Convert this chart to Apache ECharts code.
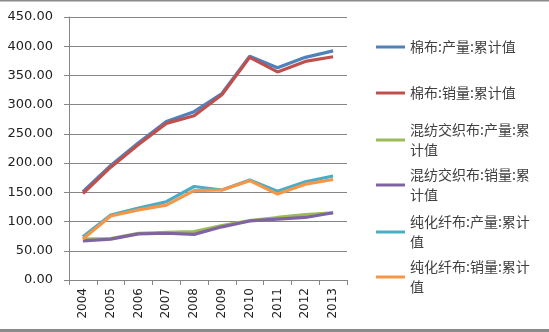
<!DOCTYPE html>
<html>
<head>
<meta charset="utf-8">
<script src="https://cdn.jsdelivr.net/npm/echarts@6/dist/echarts.min.js"></script>
<style>
html,body{margin:0;padding:0;background:#fff;}
#c{width:549px;height:332px;}
</style>
</head>
<body>
<div id="c"></div>
<script>
var years = ['2004','2005','2006','2007','2008','2009','2010','2011','2012','2013'];
var seriesNames = ['棉布:产量:累计值','棉布:销量:累计值','混纺交织布:产量:累计值','混纺交织布:销量:累计值','纯化纤布:产量:累计值','纯化纤布:销量:累计值'];
var legendLabels = ['棉布:产量:累计值','棉布:销量:累计值','混纺交织布:产量:累\n计值','混纺交织布:销量:累\n计值','纯化纤布:产量:累计\n值','纯化纤布:销量:累计\n值'];
var cottonProd  = [151, 196, 235, 271, 288, 319, 383, 363, 381, 392];
var cottonSales = [148, 193, 232, 268, 281, 317, 381, 356, 374, 382];
var blendProd   = [70, 71, 80, 81.5, 83, 93, 101.5, 107, 112, 115];
var blendSales  = [67, 70, 79, 80, 78, 91, 101, 104, 107, 115];
var synProd     = [74, 111, 123, 134, 160, 154, 171, 152, 168, 178];
var synSales    = [70, 109.5, 120, 128, 153, 154, 170, 147, 164, 172];
var yTicks = [0, 50, 100, 150, 200, 250, 300, 350, 400, 450];

var colors = ['#4F81BD','#C0504D','#9BBB59','#8064A2','#4BACC6','#F79646'];
var allData = [cottonProd, cottonSales, blendProd, blendSales, synProd, synSales];
var legendY = [42, 88, 135, 180, 227, 272];

var legends = seriesNames.map(function(n, i){
  var twoLine = legendLabels[i].indexOf('\n') >= 0;
  return {
    show: true,
    data: [n],
    left: 371,
    top: twoLine ? legendY[i] - 30 : legendY[i] - 10,
    orient: 'vertical',
    icon: 'rect',
    itemWidth: 29,
    itemHeight: 3,
    selectedMode: false,
    formatter: function(){ return legendLabels[i]; },
    textStyle: {
      fontFamily: 'Noto Sans CJK SC',
      fontSize: 14,
      color: '#404040',
      lineHeight: 20,
      padding: twoLine ? [20,0,0,0] : 0
    }
  };
});

var chart = echarts.init(document.getElementById('c'), null, {renderer:'canvas'});
chart.setOption({
  animation: false,
  color: colors,
  grid: {left: 69, right: 202, top: 17, bottom: 52, containLabel: false},
  legend: legends,
  graphic: [
    {type:'rect', shape:{x:0,y:0,width:549,height:1.5}, style:{fill:'#8a8a8a'}, silent:true},
    {type:'rect', shape:{x:0,y:329,width:549,height:3}, style:{fill:'#8a8a8a'}, silent:true}
  ],
  xAxis: {
    type: 'category',
    data: years,
    boundaryGap: true,
    axisLine: {lineStyle:{color:'#868686', width:1}},
    axisTick: {show:true, alignWithLabel:false, length:5, lineStyle:{color:'#868686'}},
    axisLabel: {rotate: 90, fontFamily:'DejaVu Sans', fontSize: 12, color:'#222', margin: 8}
  },
  yAxis: {
    type: 'value',
    min: yTicks[0],
    max: yTicks[yTicks.length-1],
    interval: 50,
    axisLine: {show:true, lineStyle:{color:'#868686', width:1}},
    axisTick: {show:true, length:5, lineStyle:{color:'#868686'}},
    splitLine: {show:true, lineStyle:{color:'#868686', width:1}},
    axisLabel: {fontFamily:'DejaVu Sans', fontSize: 13, color:'#222', margin: 16,
      formatter: function(v){ return v.toFixed(2); }}
  },
  series: seriesNames.map(function(n, i){
    return {
      name: n,
      type: 'line',
      data: allData[i],
      symbol: 'none',
      smooth: false,
      lineStyle: {width: 3.2, color: colors[i]},
      itemStyle: {color: colors[i]}
    };
  })
});
</script>
</body>
</html>
